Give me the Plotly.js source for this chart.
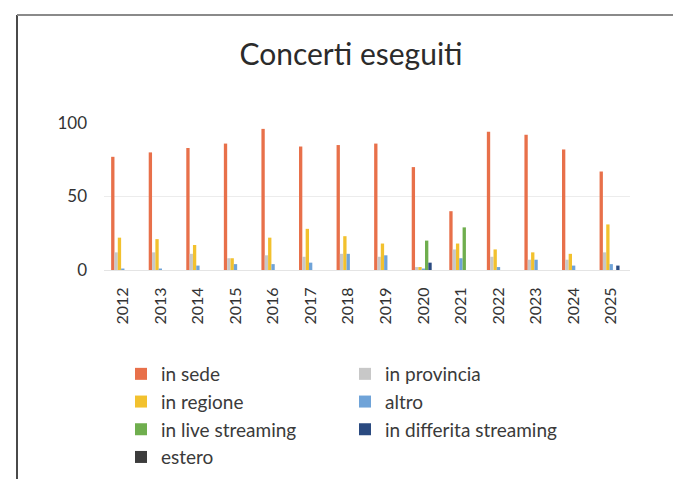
<!DOCTYPE html>
<html>
<head>
<meta charset="utf-8">
<script src="https://cdn.plot.ly/plotly-3.0.1.min.js"></script>
<style>html,body{margin:0;padding:0;background:#fff;}#chart{width:673px;height:479px;}</style>
</head>
<body>
<div id="chart"></div>
<script>
const years = ['2012','2013','2014','2015','2016','2017','2018','2019','2020','2021','2022','2023','2024','2025'];
const inSede       = [77, 80, 83, 86, 96, 84, 85, 86, 70, 40, 94, 92, 82, 67];
const inProvincia  = [12, 12, 11, 8, 10, 9, 11, 9, 2, 14, 9, 7, 7, 12];
const inRegione    = [22, 21, 17, 8, 22, 28, 23, 18, 2, 18, 14, 12, 11, 31];
const altro        = [1, 1, 3, 4, 4, 5, 11, 10, 1, 8, 2, 7, 3, 4];
const liveStream   = [0, 0, 0, 0, 0, 0, 0, 0, 20, 29, 0, 0, 0, 0];
const differita    = [0, 0, 0, 0, 0, 0, 0, 0, 5, 0, 0, 0, 0, 3];
const estero       = [0, 0, 0, 0, 0, 0, 0, 0, 0, 0, 0, 0, 0, 0];

const seriesNames  = ['in sede','in provincia','in regione','altro','in live streaming','in differita streaming','estero'];
const seriesValues = [inSede, inProvincia, inRegione, altro, liveStream, differita, estero];
const seriesColors = ['#E8704A','#C8C8C8','#F2C12E','#6FA3D8','#6FAE4E','#2A4A80','#3C3C3C'];

const traces = seriesNames.map((n, i) => ({
  type: 'bar', name: n, x: years, y: seriesValues[i],
  marker: {color: seriesColors[i]}
}));

// plot area: x 104..630, y 123..270
const L = 104, R = 673 - 630, T = 123, B = 479 - 270;
const pw = 673 - L - R, ph = 479 - T - B;
const px = v => (v - L) / pw;
const py = v => (479 - B - v) / ph;
const FONT = 'Lato, "Open Sans", sans-serif';

const layout = {
  width: 673, height: 479,
  margin: {l: L, r: R, t: T, b: B, pad: 0, autoexpand: false},
  paper_bgcolor: '#ffffff', plot_bgcolor: '#ffffff',
  font: {family: FONT, color: '#3a3a3a', size: 16},
  title: {text: 'Concerti eseguiti', x: px(351), xref: 'paper', xanchor: 'center', y: 1 - 54/479, yref: 'container', yanchor: 'middle',
          font: {size: 30, color: '#2b2b2b', family: FONT}},
  bargap: 0.38, bargroupgap: 0,
  barmode: 'group',
  xaxis: {type: 'category', tickangle: -90, showgrid: false, ticks: '', showline: true, linecolor: '#e4e4e4', linewidth: 1,
          ticklabelstandoff: 10, tickfont: {size: 16, color: '#333', family: FONT}, range: [-0.5, 13.5], fixedrange: true},
  yaxis: {range: [0, 100], dtick: 50, tick0: 0, showgrid: true, gridcolor: '#ececec', gridwidth: 1, zeroline: false,
          ticks: '', ticklabelstandoff: 16, tickfont: {size: 17, color: '#333', family: FONT}, showline: false, fixedrange: true},
  showlegend: true,
  legend: {orientation: 'h', x: px(121), xanchor: 'left', y: py(355), yanchor: 'top', entrywidth: 179, entrywidthmode: 'pixels',
           font: {size: 19, color: '#3a3a3a', family: FONT}, traceorder: 'normal', tracegroupgap: 0, itemwidth: 30, bgcolor: 'rgba(0,0,0,0)'},
  shapes: [
    {type: 'line', xref: 'paper', yref: 'paper', x0: px(17), x1: px(17), y0: py(15), y1: py(479), line: {color: '#4a4a4a', width: 2}},
    {type: 'line', xref: 'paper', yref: 'paper', x0: px(17), x1: px(673), y0: py(15), y1: py(15), line: {color: '#8a8a8a', width: 2}}
  ]
};

Plotly.newPlot('chart', traces, layout, {displayModeBar: false, staticPlot: true});
</script>
</body>
</html>
